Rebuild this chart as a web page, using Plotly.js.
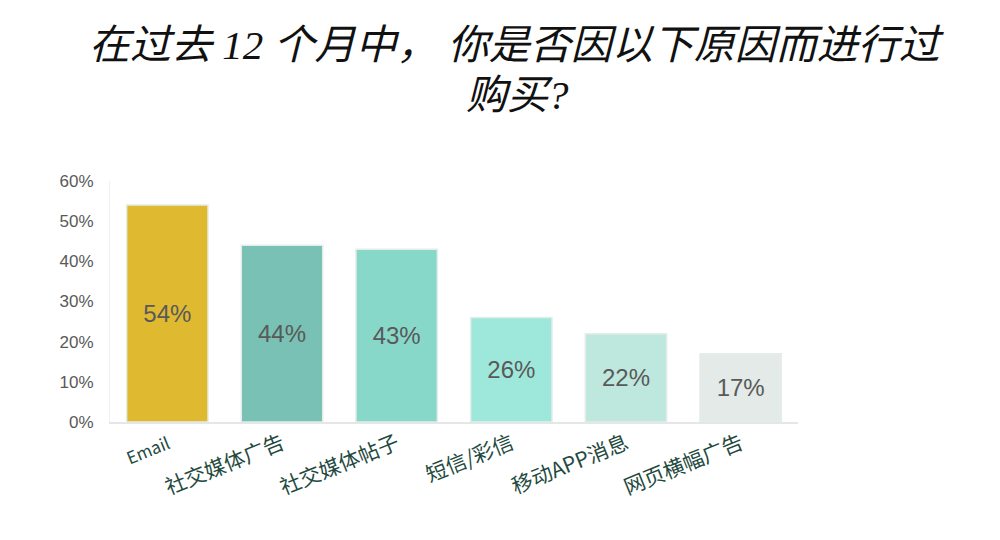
<!DOCTYPE html>
<html>
<head>
<meta charset="utf-8">
<script src="https://cdn.plot.ly/plotly-3.0.1.min.js"></script>
<style>
  html, body { margin: 0; padding: 0; background: #fff; }
  #chart { width: 1000px; height: 540px; }
</style>
</head>
<body>
<div id="chart"></div>
<script>
// survey answers, share of respondents (%)
const categories = ['Email', '社交媒体广告', '社交媒体帖子', '短信/彩信', '移动APP消息', '网页横幅广告'];
const shares = [54, 44, 43, 26, 22, 17];
const barColors = ['#DFBA31', '#78C1B4', '#88D8C9', '#9EE8DB', '#BEE8DE', '#E3EAE7'];
const yTicks = [0, 10, 20, 30, 40, 50, 60];
const titleLines = ['在过去 12 个月中，&nbsp;你是否因以下原因而进行过', '购买?'];

// Email label is drawn a bit smaller than the Chinese ones
const tickText = categories.map(c => c === 'Email' ? '<span style="font-size:17px">' + c + '</span>' : c);

const trace = {
    type: 'bar',
    x: categories,
    y: shares,
    marker: { color: barColors, line: { color: '#E6ECEA', width: 1.5 } },
    text: shares.map(v => v + '%'),
    textposition: 'inside',
    insidetextanchor: 'middle',
    textangle: 0,
    textfont: { family: 'Liberation Sans, Arial, sans-serif', size: 24, color: '#595959' },
    hoverinfo: 'none'
};

const titleFont = { family: 'Liberation Serif, "Noto Sans CJK SC", serif', size: 41, color: '#111' };

const layout = {
    width: 1000,
    height: 540,
    margin: { l: 110, r: 202, t: 181, b: 118 },
    paper_bgcolor: '#fff',
    plot_bgcolor: '#fff',
    bargap: 0.29,
    showlegend: false,
    annotations: titleLines.map((line, i) => ({
        text: '<i>' + line + '</i>',
        xref: 'paper', yref: 'paper',
        x: (517 - 110) / 688,
        y: 1 + (181 - (45 + i * 50)) / 241,
        xanchor: 'center', yanchor: 'middle',
        showarrow: false,
        font: titleFont
    })),
    xaxis: {
        type: 'category',
        tickvals: categories,
        ticktext: tickText,
        tickangle: -22,
        tickfont: { family: '"Noto Sans CJK SC", sans-serif', size: 21, color: '#1F4A40' },
        showline: true,
        linecolor: '#E3E8E6',
        linewidth: 1.5,
        ticks: '',
        showgrid: false,
        fixedrange: true
    },
    yaxis: {
        range: [0, 60],
        tickvals: yTicks,
        ticktext: yTicks.map(v => v + '%'),
        tickfont: { family: 'Liberation Sans, Arial, sans-serif', size: 17, color: '#595959' },
        ticklabelstandoff: 12,
        showline: true,
        linecolor: '#EEF1F0',
        linewidth: 1,
        showgrid: false,
        zeroline: false,
        ticks: '',
        fixedrange: true
    }
};

Plotly.newPlot('chart', [trace], layout, { displayModeBar: false, staticPlot: true });
</script>
</body>
</html>
